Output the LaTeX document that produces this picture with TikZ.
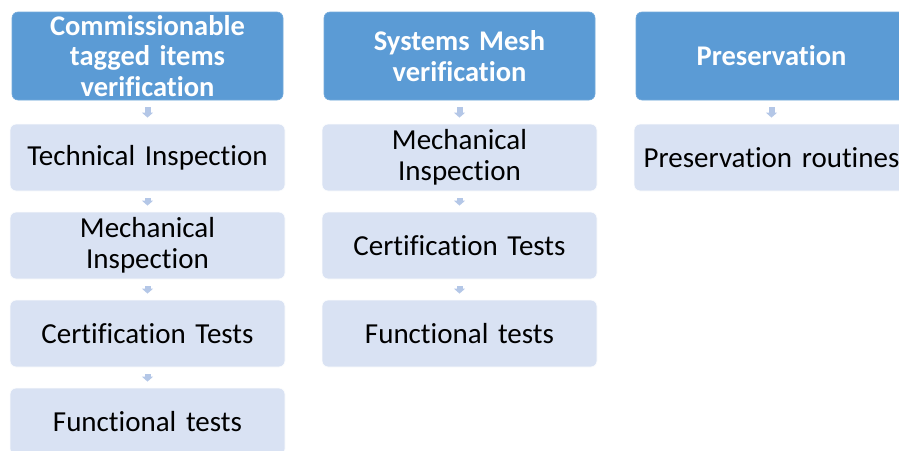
\documentclass[tikz,border=0pt]{standalone}
\usepackage{fontspec}
\setmainfont{Carlito}[Ligatures={NoCommon}, WordSpace={0.8,0,0}]
\usetikzlibrary{arrows.meta}
\definecolor{headblue}{HTML}{5B9BD5}
\definecolor{stepfill}{HTML}{D9E2F3}
\definecolor{arrowblue}{HTML}{B4C7E7}
\tikzset{
  headbox/.style={fill=headblue, draw=headblue!85!white, line width=0.6pt,
    rounded corners=6pt, minimum width=271pt, minimum height=88pt,
    text width=265pt, align=center, text=white, inner sep=0pt,
    font=\fontsize{28.5}{30.5}\selectfont\bfseries},
  stepbox/.style={fill=stepfill, draw=white!92!stepfill, line width=0.8pt,
    rounded corners=6pt, minimum width=275pt, minimum height=67pt,
    text width=272pt, align=center, text=black, inner sep=0pt,
    font=\fontsize{29}{31}\selectfont},
  flow/.style={draw=arrowblue, line width=6pt,
    -{Triangle[width=11pt,length=5pt]}, shorten <=7pt, shorten >=6pt}
}
\begin{document}
\begin{tikzpicture}[x=1pt, y=-1pt]
  \clip (0,0) rectangle (899,450);
  % column 1
  \node[headbox] (h1) at (147.5,56) {Commissionable\\tagged items\\verification};
  \node[stepbox] (a1) at (147.5,157.5) {Technical Inspection};
  \node[stepbox] (a2) at (147.5,245.5) {Mechanical\\Inspection};
  \node[stepbox] (a3) at (147.5,333.5) {Certification Tests};
  \node[stepbox] (a4) at (147.5,421.5) {Functional tests};
  % column 2
  \node[headbox] (h2) at (459.5,56) {Systems Mesh\\verification};
  \node[stepbox] (b1) at (459.5,157.5) {Mechanical\\Inspection};
  \node[stepbox] (b2) at (459.5,245.5) {Certification Tests};
  \node[stepbox] (b3) at (459.5,333.5) {Functional tests};
  % column 3
  \node[headbox] (h3) at (771.5,56) {Preservation};
  \node[stepbox] (c1) at (771.5,157.5) {Preservation routines};
  % flow arrows
  \draw[flow] (h1) -- (a1);
  \draw[flow] (a1) -- (a2);
  \draw[flow] (a2) -- (a3);
  \draw[flow] (a3) -- (a4);
  \draw[flow] (h2) -- (b1);
  \draw[flow] (b1) -- (b2);
  \draw[flow] (b2) -- (b3);
  \draw[flow] (h3) -- (c1);
\end{tikzpicture}
\end{document}
